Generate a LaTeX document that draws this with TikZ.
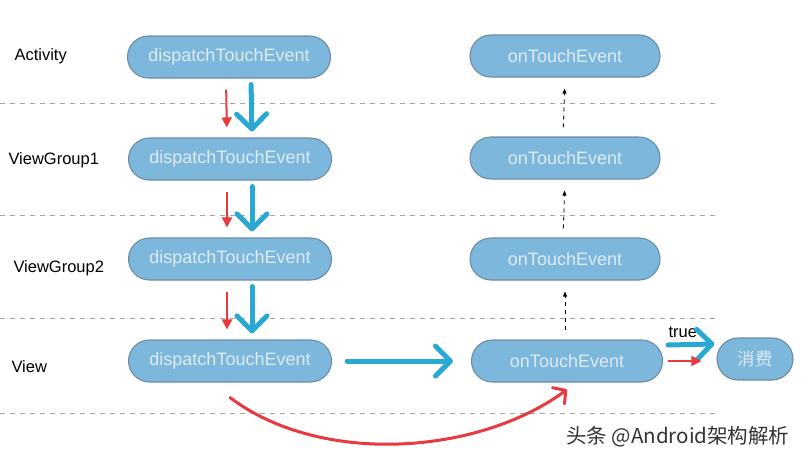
\documentclass[tikz,border=0pt]{standalone}
\usepackage{fontspec}
\setmainfont{Liberation Sans}
\newfontfamily\cjk{Noto Sans CJK SC}
\usetikzlibrary{arrows.meta}
\definecolor{pillfill}{HTML}{7DB7DC}
\definecolor{pillline}{HTML}{6B8CA6}
\definecolor{pilltext}{HTML}{DDECF6}
\definecolor{flowblue}{HTML}{2AA8D4}
\definecolor{flowred}{HTML}{E8393E}
\definecolor{sepgray}{HTML}{A8A8A8}
\begin{document}
\begin{tikzpicture}[x=1pt, y=-1pt,
    pill/.style={draw=pillline, line width=1.1pt, fill=pillfill, text=pilltext,
        rounded corners=21pt, minimum height=42pt, inner sep=0pt,
        font=\fontsize{18}{21}\selectfont},
    lbl/.style={anchor=west, font=\fontsize{16.5}{19}\selectfont},
    sepline/.style={sepgray, line width=1pt, dash pattern=on 5pt off 5pt},
    bluearrow/.style={flowblue, line width=5pt, line cap=round,
        -{Straight Barb[length=15pt, width=30pt, round]}},
    redarrow/.style={flowred, line width=2pt, -{Triangle[length=10pt, width=10pt]}},
    uparrow/.style={black, line width=0.8pt, dash pattern=on 4pt off 4pt,
        -{Triangle[length=5pt, width=4pt]}}]
    \useasboundingbox (0,0) rectangle (805,461);

    % 分隔线
    \foreach \y in {103,215,318,413}
        \draw[sepline] (0,\y) -- (720,\y);

    % 左侧标签
    \node[lbl] (lact) at (11,56) {Activity};
    \node[lbl] (lvg1) at (5,160) {ViewGroup1};
    \node[lbl] (lvg2) at (10,268) {ViewGroup2};
    \node[lbl] (lview) at (8,367) {View};

    % dispatchTouchEvent
    \node[pill, minimum width=203pt] (dact) at (229,57) {dispatchTouchEvent};
    \node[pill, minimum width=203pt] (dvg1) at (230,159) {dispatchTouchEvent};
    \node[pill, minimum width=203pt] (dvg2) at (230,259) {dispatchTouchEvent};
    \node[pill, minimum width=203pt] (dview) at (230,361) {dispatchTouchEvent};

    % onTouchEvent
    \node[pill, minimum width=190pt] (oact) at (565,56) {onTouchEvent};
    \node[pill, minimum width=190pt] (ovg1) at (565,158) {onTouchEvent};
    \node[pill, minimum width=190pt] (ovg2) at (565,259) {onTouchEvent};
    \node[pill, minimum width=191pt] (oview) at (567,361) {onTouchEvent};
    \node[pill, minimum width=76pt, font=\cjk\fontsize{17.5}{20}\selectfont] (xf) at (755,359) {消费};

    % 向下分发
    \foreach \a/\b in {dact/dvg1, dvg1/dvg2, dvg2/dview} {
        \draw[redarrow, shorten <=11pt, shorten >=10pt] ([xshift=-3pt]\a.south) -- ([xshift=-3pt]\b.north);
        \draw[bluearrow, shorten <=6pt, shorten >=6pt] ([xshift=22pt]\a.south) -- ([xshift=22pt]\b.north);
    }

    % 向上回传
    \foreach \a/\b in {oview/ovg2, ovg2/ovg1, ovg1/oact}
        \draw[uparrow, shorten <=9pt, shorten >=11pt] ([xshift=-2pt]\a.north) -- (\b.south);

    \draw[bluearrow, shorten <=15pt, shorten >=18pt] (dview.east) -- (oview.west);
    \draw[flowred, line width=3pt, line cap=round, -{Straight Barb[length=9pt, width=20pt, round]}]
        ([yshift=-15pt]dview.south) .. controls +(90,68) and +(-90,66) .. ([yshift=-7pt]oview.south);

    % 消费
    \node[lbl] (ltrue) at (665,332) {true};
    \draw[bluearrow] ([xshift=5pt,yshift=16pt]oview.east) -- ([xshift=-2pt,yshift=15pt]xf.west);
    \draw[redarrow] ([xshift=5pt]oview.east) -- ([xshift=-15pt,yshift=-2pt]xf.west);

    \node[anchor=east, text=black!80, font=\cjk\fontsize{20.5}{24}\selectfont] (wm) at (793,437) {头条 @Android架构解析};
\end{tikzpicture}
\end{document}
